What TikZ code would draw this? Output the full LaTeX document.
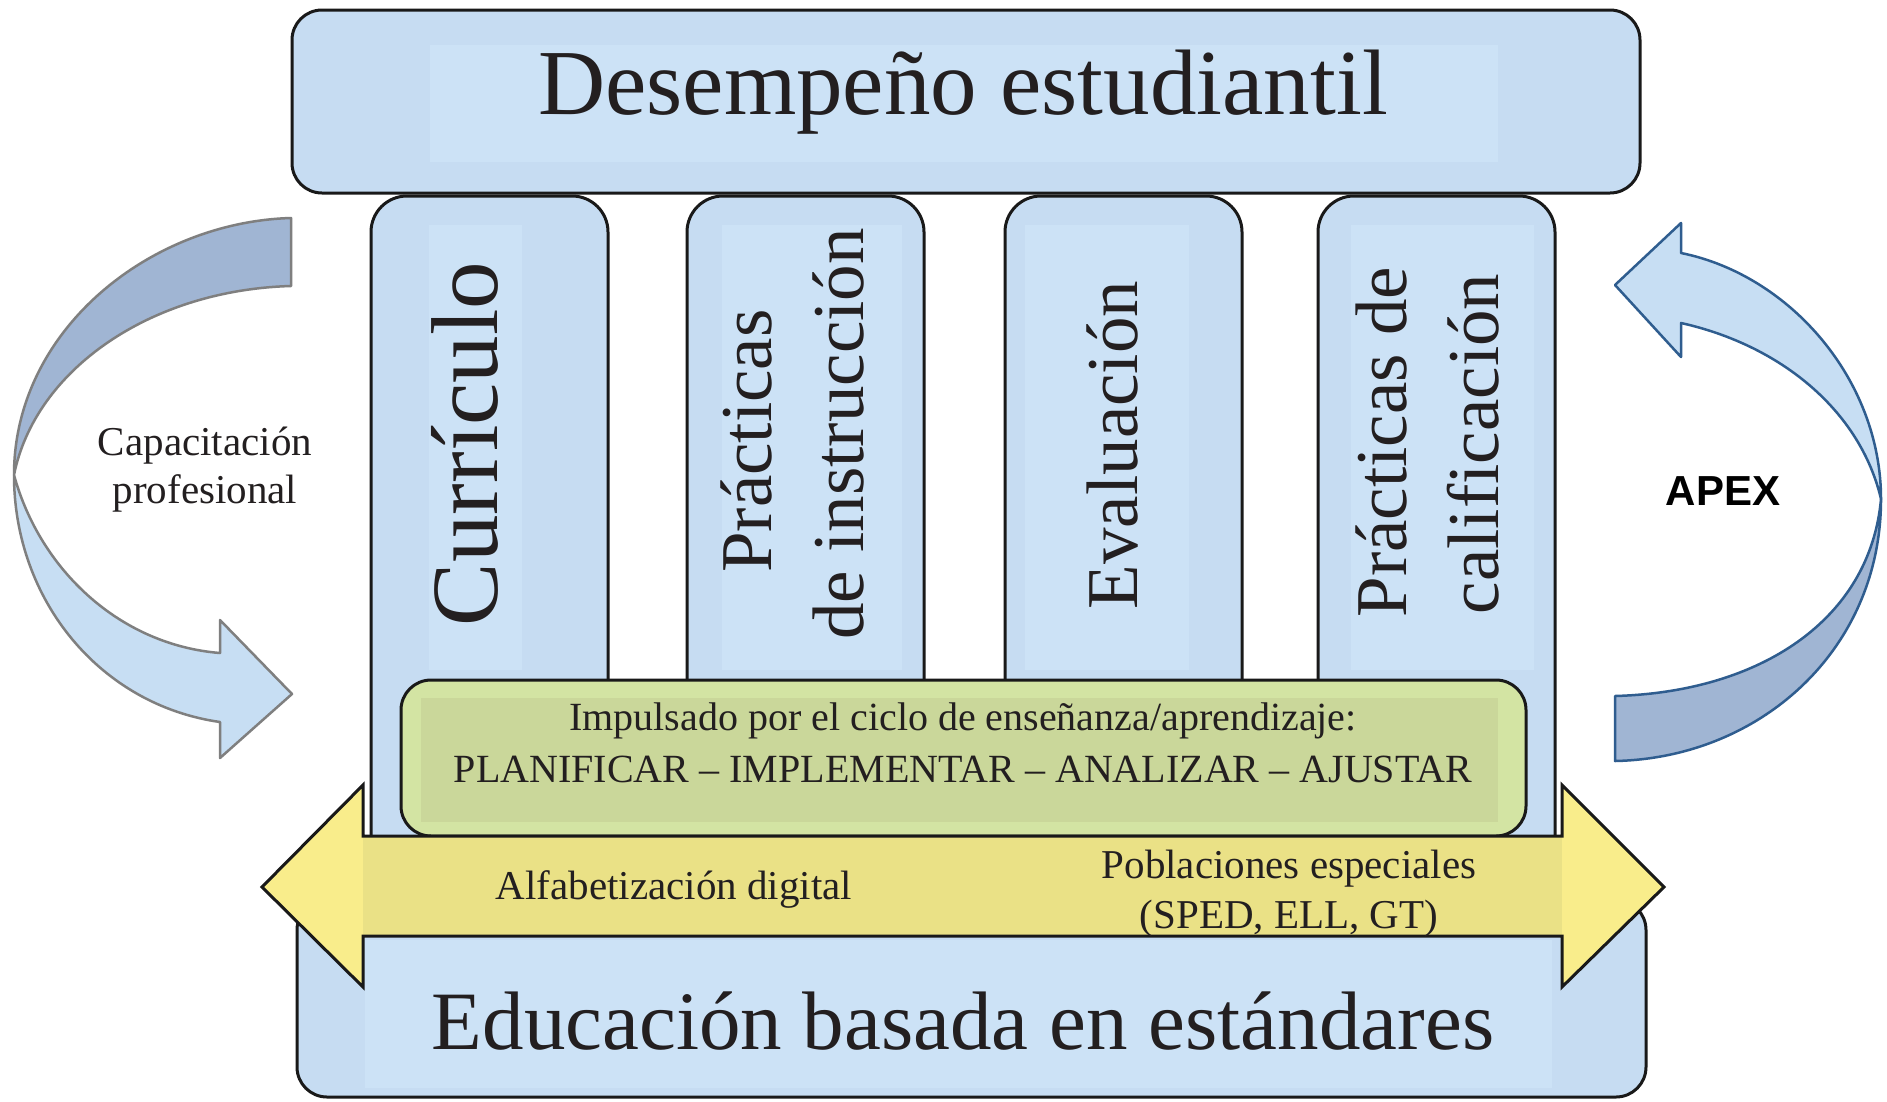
\documentclass[tikz,border=0pt]{standalone}
\usepackage{fontspec}
\setmainfont{Liberation Serif}
\newfontfamily\apexfont{Liberation Sans}
\definecolor{boxblue}{HTML}{C6DCF2}
\definecolor{patchblue}{HTML}{CCE2F6}
\definecolor{greenfill}{HTML}{CAD79A}
\definecolor{greentop}{HTML}{D3E4A3}
\definecolor{bandyellow}{HTML}{EAE186}
\definecolor{headyellow}{HTML}{F9ED8B}
\definecolor{arrdark}{HTML}{A0B5D3}
\definecolor{arrlight}{HTML}{C7DEF3}
\definecolor{graystroke}{HTML}{7F7F7F}
\definecolor{bluestroke}{HTML}{2F5D8F}
\definecolor{txt}{HTML}{231F20}
\begin{document}
\begin{tikzpicture}[x=1pt,y=-1pt,
  outl/.style={draw=black!90,line width=3pt},
  panel/.style={outl,fill=boxblue,rounded corners=30pt},
  pillarbox/.style={outl,fill=boxblue,rounded corners=36pt},
  lbl/.style={text=txt,inner sep=0pt,anchor=base},
  curvL/.style={draw=graystroke,line width=2.5pt,line join=round},
  curvR/.style={draw=bluestroke,line width=2.5pt,line join=round}]
\useasboundingbox (0,0) rectangle (1887,1101);
\fill[white] (0,0) rectangle (1887,1101);
% top panel
\draw[panel] (292,10) rectangle (1640,193);
\fill[patchblue] (430,45) rectangle (1498,162);
\node[lbl,font=\fontsize{93}{100}\selectfont] (top) at (963,114) {Desempeño estudiantil};
% pillars
\draw[pillarbox] (371,842) -- (371,196) -- (608,196) -- (608,842);
\draw[pillarbox] (687,842) -- (687,196) -- (924,196) -- (924,842);
\draw[pillarbox] (1005,842) -- (1005,196) -- (1242,196) -- (1242,842);
\draw[pillarbox] (1318,842) -- (1318,196) -- (1555,196) -- (1555,842);
\fill[patchblue] (429,225) rectangle (522,670);
\fill[patchblue] (722,225) rectangle (902,670);
\fill[patchblue] (1025,225) rectangle (1189,670);
\fill[patchblue] (1351,225) rectangle (1534,670);
\node[lbl,rotate=90,font=\fontsize{95}{100}\selectfont] (p1) at (497,444) {Currículo};
\node[lbl,rotate=90,font=\fontsize{73}{90}\selectfont] (p2a) at (771,441) {Prácticas};
\node[lbl,rotate=90,font=\fontsize{73}{90}\selectfont] (p2b) at (863,434) {de instrucción};
\node[lbl,rotate=90,font=\fontsize{73}{90}\selectfont] (p3) at (1137,445) {Evaluación};
\node[lbl,rotate=90,font=\fontsize{73}{90}\selectfont] (p4a) at (1406,442) {Prácticas de};
\node[lbl,rotate=90,font=\fontsize{73}{90}\selectfont] (p4b) at (1498,444) {calificación};
% bottom panel
\draw[panel] (297,900) rectangle (1646,1097);
\fill[patchblue] (365,940) rectangle (1552,1088);
\node[lbl,font=\fontsize{83}{90}\selectfont] (bottom) at (963,1049) {Educación basada en estándares};
% green box
\draw[outl,fill=greentop,rounded corners=30pt] (401,680) rectangle (1526,836);
\fill[greenfill] (421,698) rectangle (1498,822);
\node[lbl,font=\fontsize{40}{48}\selectfont] (g1) at (963,730) {Impulsado por el ciclo de enseñanza/aprendizaje:};
\node[lbl,font=\fontsize{40}{48}\selectfont] (g2) at (963,782) {PLANIFICAR – IMPLEMENTAR – ANALIZAR – AJUSTAR};
% yellow double arrow
\fill[headyellow] (363,785) -- (262,887) -- (363,987) -- cycle;
\fill[headyellow] (1562,785) -- (1664,887) -- (1562,987) -- cycle;
\fill[bandyellow] (363,836) rectangle (1562,936);
\draw[outl,line join=miter] (363,836) -- (363,785) -- (262,887) -- (363,987) -- (363,936)
  -- (1562,936) -- (1562,987) -- (1664,887) -- (1562,785) -- (1562,836) -- cycle;
\node[lbl,font=\fontsize{41}{48}\selectfont] (alf) at (674,899) {Alfabetización digital};
\node[lbl,font=\fontsize{41}{48}\selectfont] (pob1) at (1289,878) {Poblaciones especiales};
\node[lbl,font=\fontsize{41}{48}\selectfont] (pob2) at (1289,928) {(SPED, ELL, GT)};
% left curved arrow
\draw[curvL,fill=arrdark] (291,218) .. controls (150,222) and (14,330) .. (14,475)
  .. controls (35,370) and (150,290) .. (291,286) -- cycle;
\draw[curvL,fill=arrlight] (14,475) .. controls (14,600) and (100,705) .. (220,722)
  -- (220,758) -- (292,694) -- (220,620) -- (220,653)
  .. controls (120,645) and (40,570) .. (14,475) -- cycle;
\node[lbl,font=\fontsize{41}{48}\selectfont] (cap1) at (205,455) {Capacitación};
\node[lbl,font=\fontsize{41}{48}\selectfont] (cap2) at (205,503) {profesional};
% right curved arrow
\draw[curvR,fill=arrdark] (1615,761) .. controls (1760,758) and (1881,650) .. (1881,499)
  .. controls (1870,620) and (1760,692) .. (1615,696) -- cycle;
\draw[curvR,fill=arrlight] (1881,499) .. controls (1881,380) and (1790,275) .. (1681,253)
  -- (1681,223) -- (1615,285) -- (1681,357) -- (1681,323)
  .. controls (1780,345) and (1860,410) .. (1881,499) -- cycle;
\node[lbl,font=\apexfont\bfseries\fontsize{42}{48}\selectfont,text=black] (apex) at (1723,505) {APEX};
\end{tikzpicture}
\end{document}
